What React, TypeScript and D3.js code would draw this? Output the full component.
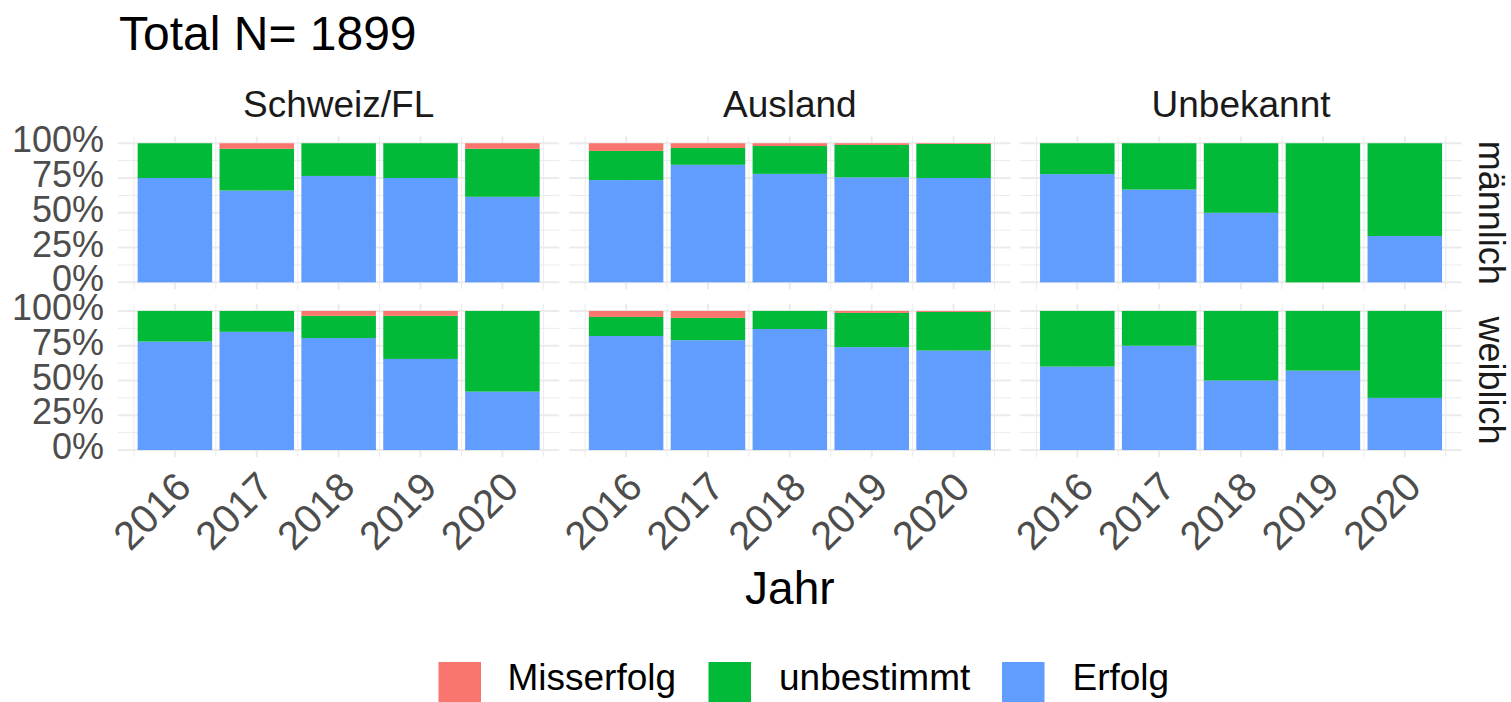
import React from "react";
import * as d3 from "d3";

// ---------- data ----------
const years = [2016, 2017, 2018, 2019, 2020];
const origins = ["Schweiz/FL", "Ausland", "Unbekannt"];
const genders = ["männlich", "weiblich"];
const outcomes = ["Misserfolg", "unbestimmt", "Erfolg"]; // legend order
const outcomeColors = ["#F8766D", "#00BA38", "#619CFF"];
const yTicks = [0, 0.25, 0.5, 0.75, 1];
const yTickLabels = ["0%", "25%", "50%", "75%", "100%"];
const titleText = "Total N= 1899";
const xTitle = "Jahr";

// percent per year (2016..2020)
const erfolgSchweizM = [75, 66, 76.5, 75, 61.5];
const erfolgSchweizW = [78, 85, 80.5, 65.5, 42];
const erfolgAuslandM = [73.5, 84.5, 78, 75.5, 75];
const erfolgAuslandW = [82, 79, 87, 74, 71.5];
const erfolgUnbekanntM = [77.8, 66.7, 50, 0, 33.3];
const erfolgUnbekanntW = [60, 75, 50, 57.1, 37.5];

const unbestSchweizM = [25, 30, 23.5, 25, 34.5];
const unbestSchweizW = [22, 15, 16, 31, 58];
const unbestAuslandM = [21, 12.1, 20, 23.3, 24.5];
const unbestAuslandW = [13.7, 16, 13, 24.6, 27.8];
const unbestUnbekanntM = [22.2, 33.3, 50, 100, 66.7];
const unbestUnbekanntW = [40, 25, 50, 42.9, 62.5];

const missSchweizM = [0, 4, 0, 0, 4];
const missSchweizW = [0, 0, 3.5, 3.5, 0];
const missAuslandM = [5.5, 3.4, 2, 1.2, 0.5];
const missAuslandW = [4.3, 5, 0, 1.4, 0.7];
const missUnbekanntM = [0, 0, 0, 0, 0];
const missUnbekanntW = [0, 0, 0, 0, 0];

const panelData: Record<string, { Erfolg: number[]; unbestimmt: number[]; Misserfolg: number[] }> = {
  "Schweiz/FL|männlich": { Erfolg: erfolgSchweizM, unbestimmt: unbestSchweizM, Misserfolg: missSchweizM },
  "Schweiz/FL|weiblich": { Erfolg: erfolgSchweizW, unbestimmt: unbestSchweizW, Misserfolg: missSchweizW },
  "Ausland|männlich": { Erfolg: erfolgAuslandM, unbestimmt: unbestAuslandM, Misserfolg: missAuslandM },
  "Ausland|weiblich": { Erfolg: erfolgAuslandW, unbestimmt: unbestAuslandW, Misserfolg: missAuslandW },
  "Unbekannt|männlich": { Erfolg: erfolgUnbekanntM, unbestimmt: unbestUnbekanntM, Misserfolg: missUnbekanntM },
  "Unbekannt|weiblich": { Erfolg: erfolgUnbekanntW, unbestimmt: unbestUnbekanntW, Misserfolg: missUnbekanntW },
};

// ---------- layout ----------
const W = 1511;
const H = 702;
const FONT = "'Liberation Sans', Arial, Helvetica, sans-serif";
const panelLeft = 118;
const panelW = 441.3;
const panelGapX = 9.9;
const panelTops = [136.3, 304];
const panelH = 153;
const barWidthUnits = 0.91;
const colorOf = d3.scaleOrdinal<string, string>().domain(outcomes).range(outcomeColors);

const stackKeys = ["Erfolg", "unbestimmt", "Misserfolg"];

export default function App() {
  const xScales = origins.map((_, i) => {
    const x0 = panelLeft + i * (panelW + panelGapX);
    return d3.scaleLinear().domain([2015.305, 2020.695]).range([x0, x0 + panelW]);
  });
  const yScales = genders.map((_, j) =>
    d3.scaleLinear().domain([-0.05, 1.05]).range([panelTops[j] + panelH, panelTops[j]])
  );

  const minorY = [0.125, 0.375, 0.625, 0.875];
  const minorX = [2015.5, 2016.5, 2017.5, 2018.5, 2019.5, 2020.5];

  const stacker = d3
    .stack<any>()
    .keys(stackKeys)
    .offset(d3.stackOffsetExpand)
    .order(d3.stackOrderNone);

  const legendItems = [
    { key: "Misserfolg", kx: 438.5, tx: 507.5 },
    { key: "unbestimmt", kx: 708.5, tx: 779 },
    { key: "Erfolg", kx: 1002, tx: 1072.5 },
  ];

  return (
    <svg
      width={W}
      height={H}
      style={{ position: "absolute", left: 0, top: 0, background: "#fff" }}
      fontFamily={FONT}
    >
      <rect x={0} y={0} width={W} height={H} fill="#fff" />
      <text x={119} y={50} fontSize={48} fill="#000">
        {titleText}
      </text>

      {origins.map((org, i) => {
        const x = xScales[i];
        const [r0, r1] = x.range();
        return (
          <g key={org}>
            <text x={(r0 + r1) / 2} y={117} fontSize={37} fill="#1A1A1A" textAnchor="middle">
              {org}
            </text>
            {genders.map((gen, j) => {
              const y = yScales[j];
              const [yb, yt] = y.range();
              const d = panelData[org + "|" + gen];
              const rows = years.map((yr, k) => ({
                year: yr,
                Erfolg: d.Erfolg[k],
                unbestimmt: d.unbestimmt[k],
                Misserfolg: d.Misserfolg[k],
              }));
              const series = stacker(rows);
              const bw = x(2016 + barWidthUnits) - x(2016);
              return (
                <g key={gen}>
                  {minorY.map((v) => (
                    <line key={"my" + v} x1={r0} x2={r1} y1={y(v)} y2={y(v)} stroke="#EBEBEB" strokeWidth={1} />
                  ))}
                  {minorX.map((v) => (
                    <line key={"mx" + v} x1={x(v)} x2={x(v)} y1={yt} y2={yb} stroke="#EBEBEB" strokeWidth={1} />
                  ))}
                  {yTicks.map((v) => (
                    <line key={"gy" + v} x1={r0} x2={r1} y1={y(v)} y2={y(v)} stroke="#EBEBEB" strokeWidth={2} />
                  ))}
                  {years.map((v) => (
                    <line key={"gx" + v} x1={x(v)} x2={x(v)} y1={yt} y2={yb} stroke="#EBEBEB" strokeWidth={2} />
                  ))}
                  {series.map((s) => (
                    <g key={s.key} fill={colorOf(s.key)}>
                      {s.map((p, k) =>
                        p[1] - p[0] > 0 ? (
                          <rect
                            key={k}
                            x={x(years[k]) - bw / 2}
                            width={bw}
                            y={y(p[1])}
                            height={y(p[0]) - y(p[1])}
                          />
                        ) : null
                      )}
                    </g>
                  ))}
                  {i === 0 &&
                    yTicks.map((v, k) => (
                      <text
                        key={"yl" + v}
                        x={104}
                        y={y(v)}
                        dy="0.25em"
                        fontSize={36}
                        fill="#4D4D4D"
                        textAnchor="end"
                      >
                        {yTickLabels[k]}
                      </text>
                    ))}
                  {i === origins.length - 1 && (
                    <text
                      transform={`translate(${1479},${(yt + yb) / 2}) rotate(90)`}
                      fontSize={36}
                      fill="#1A1A1A"
                      textAnchor="middle"
                    >
                      {gen}
                    </text>
                  )}
                </g>
              );
            })}
            {years.map((yr) => (
              <text
                key={"xl" + yr}
                transform={`translate(${x(yr) - 2},${panelTops[1] + panelH + 12}) rotate(-45)`}
                dy="0.72em"
                fontSize={40}
                fill="#4D4D4D"
                textAnchor="end"
              >
                {yr}
              </text>
            ))}
          </g>
        );
      })}

      <text x={(panelLeft + panelLeft + 3 * panelW + 2 * panelGapX) / 2} y={604} fontSize={46} fill="#000" textAnchor="middle">
        {xTitle}
      </text>

      {legendItems.map((it) => (
        <g key={it.key}>
          <rect x={it.kx} y={662} width={42.5} height={42.5} fill={colorOf(it.key)} />
          <text x={it.tx} y={690} fontSize={37} fill="#000">
            {it.key}
          </text>
        </g>
      ))}
    </svg>
  );
}
